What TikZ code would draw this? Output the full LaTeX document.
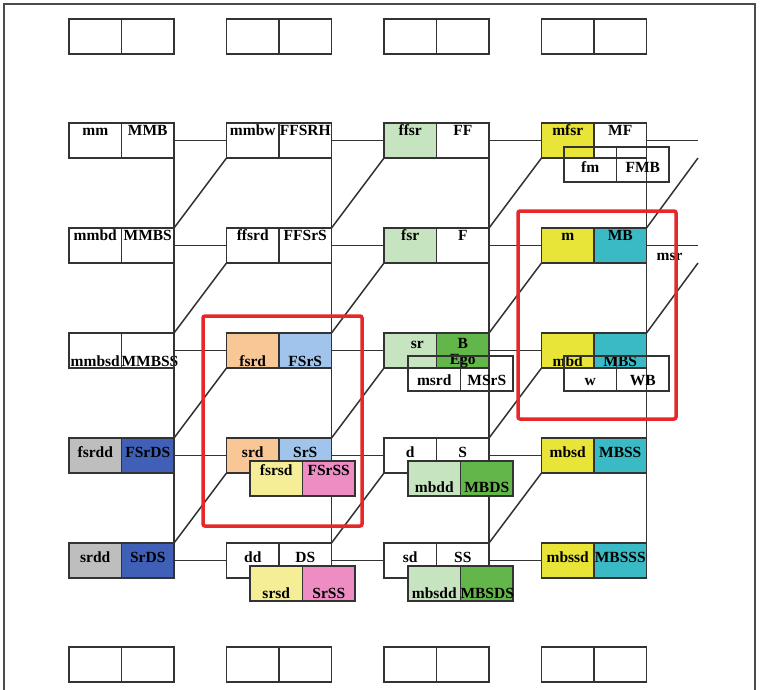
\documentclass[tikz,border=0pt]{standalone}
\usepackage{fontspec}
\setmainfont{Liberation Serif}
\usepackage{xcolor}
\usetikzlibrary{positioning, calc}
\definecolor{lat-lgreen}{RGB}{199,228,192}
\definecolor{lat-green}{RGB}{98,182,74}
\definecolor{lat-yellow}{RGB}{232,228,56}
\definecolor{lat-teal}{RGB}{58,186,196}
\definecolor{lat-orange}{RGB}{249,198,150}
\definecolor{lat-lblue}{RGB}{160,196,236}
\definecolor{lat-grey}{RGB}{190,190,190}
\definecolor{lat-blue}{RGB}{64,96,184}
\definecolor{lat-lyellow}{RGB}{246,238,150}
\definecolor{lat-pink}{RGB}{238,140,196}
\definecolor{lat-red}{RGB}{230,40,40}

\begin{document}
\begin{tikzpicture}[
    x=1pt, y=-1pt,
    cell/.style={draw=black!80, line width=1.6pt, outer sep=0pt,
                 minimum width=52.5pt, minimum height=35pt, inner sep=0pt,
                 text width=52.5pt, align=center,
                 font=\bfseries\fontsize{15.5}{15.5}\selectfont},
    tb/.style 2 args={text height=#1pt, text depth=#2pt},
    hi/.style={tb={12.5}{22.5}},
    md/.style={tb={19.5}{15.5}},
    lo/.style={tb={33.5}{1.5}},
    wire/.style={line width=1.5pt, color=black!80},
    lbl/.style={font=\bfseries\fontsize{15.5}{15.5}\selectfont, inner sep=0pt},
    hot/.style={draw=lat-red, line width=3.5pt, rounded corners=2pt},
    node distance=0pt
  ]
    \useasboundingbox (0,0) rectangle (760,690);
    \draw[line width=1.3pt, black!70] (4,690) -- (4,4) -- (755,4) -- (755,690);

    % empty rows
    \node[cell, anchor=north west] (ea1) at (69,19) {};
    \node[cell, right=of ea1] (eb1) {};
    \node[cell, anchor=north west] (ea2) at (226.5,19) {};
    \node[cell, right=of ea2] (eb2) {};
    \node[cell, anchor=north west] (ea3) at (384,19) {};
    \node[cell, right=of ea3] (eb3) {};
    \node[cell, anchor=north west] (ea4) at (541.5,19) {};
    \node[cell, right=of ea4] (eb4) {};
    \node[cell, anchor=north west] (za1) at (69,647) {};
    \node[cell, right=of za1] (zb1) {};
    \node[cell, anchor=north west] (za2) at (226.5,647) {};
    \node[cell, right=of za2] (zb2) {};
    \node[cell, anchor=north west] (za3) at (384,647) {};
    \node[cell, right=of za3] (zb3) {};
    \node[cell, anchor=north west] (za4) at (541.5,647) {};
    \node[cell, right=of za4] (zb4) {};

    % row 1
    \node[cell, hi, anchor=north west] (mm) at (69,123) {mm};
    \node[cell, hi, right=of mm] (MMB) {MMB};
    \node[cell, hi, anchor=north west] (mmbw) at (226.5,123) {mmbw};
    \node[cell, hi, right=of mmbw] (FFSRH) {FFSRH};
    \node[cell, hi, fill=lat-lgreen, anchor=north west] (ffsr) at (384,123) {ffsr};
    \node[cell, hi, right=of ffsr] (FF) {FF};
    \node[cell, hi, fill=lat-yellow, anchor=north west] (mfsr) at (541.5,123) {mfsr};
    \node[cell, hi, right=of mfsr] (MF) {MF};

    % row 2
    \node[cell, hi, anchor=north west] (mmbd) at (69,228) {mmbd};
    \node[cell, hi, right=of mmbd] (MMBS) {MMBS};
    \node[cell, hi, anchor=north west] (ffsrd) at (226.5,228) {ffsrd};
    \node[cell, hi, right=of ffsrd] (FFSrS) {FFSrS};
    \node[cell, hi, fill=lat-lgreen, anchor=north west] (fsr) at (384,228) {fsr};
    \node[cell, hi, right=of fsr] (F) {F};
    \node[cell, hi, fill=lat-yellow, anchor=north west] (m) at (541.5,228) {m};
    \node[cell, hi, fill=lat-teal, right=of m] (MB) {MB};

    % row 3
    \node[cell, lo, anchor=north west] (mmbsd) at (69,333) {mmbsd};
    \node[cell, lo, right=of mmbsd] (MMBSS) {MMBSS};
    \node[cell, lo, fill=lat-orange, anchor=north west] (fsrd) at (226.5,333) {fsrd};
    \node[cell, lo, fill=lat-lblue, right=of fsrd] (FSrS) {FSrS};
    \node[cell, tb={15}{20}, fill=lat-lgreen, anchor=north west] (sr) at (384,333) {\hspace*{14pt}sr};
    \node[cell, tb={15}{20}, fill=lat-green, right=of sr] (B) {B};
    \node[cell, lo, fill=lat-yellow, anchor=north west] (mbd) at (541.5,333) {mbd};
    \node[cell, lo, fill=lat-teal, right=of mbd] (MBS) {MBS};

    % row 4
    \node[cell, md, fill=lat-grey, anchor=north west] (fsrdd) at (69,438) {fsrdd};
    \node[cell, md, fill=lat-blue, right=of fsrdd] (FSrDS) {FSrDS};
    \node[cell, md, fill=lat-orange, anchor=north west] (srd) at (226.5,438) {srd};
    \node[cell, md, fill=lat-lblue, right=of srd] (SrS) {SrS};
    \node[cell, md, anchor=north west] (d) at (384,438) {d};
    \node[cell, md, right=of d] (S) {S};
    \node[cell, md, fill=lat-yellow, anchor=north west] (mbsd) at (541.5,438) {mbsd};
    \node[cell, md, fill=lat-teal, right=of mbsd] (MBSS) {MBSS};

    % row 5
    \node[cell, md, fill=lat-grey, anchor=north west] (srdd) at (69,543) {srdd};
    \node[cell, md, fill=lat-blue, right=of srdd] (SrDS) {SrDS};
    \node[cell, md, anchor=north west] (dd) at (226.5,543) {dd};
    \node[cell, md, right=of dd] (DS) {DS};
    \node[cell, md, anchor=north west] (sd) at (384,543) {sd};
    \node[cell, md, right=of sd] (SS) {SS};
    \node[cell, md, fill=lat-yellow, anchor=north west] (mbssd) at (541.5,543) {mbssd};
    \node[cell, md, fill=lat-teal, right=of mbssd] (MBSSS) {MBSSS};

    \node[lbl, anchor=base] (ego) at ($(B.south)+(0,-4)$) {Ego};
    \node[lbl, anchor=base] (msr) at (669.5,260) {msr};
    \coordinate (h1) at (698,140.5);
    \coordinate (h2) at (698,245.5);
    \coordinate (k1) at (698,158);
    \coordinate (k2) at (698,263);

    % verticals
    \draw[wire] (MMB.south east) -- (SrDS.north east);
    \draw[wire] (FFSRH.south east) -- (DS.north east);
    \draw[wire] (FF.south east) -- (SS.north east);
    \draw[wire] (MF.south east) -- (MBSSS.north east);

    % horizontals
    \draw[wire] (MMB.east) -- (mmbw.west);
    \draw[wire] (FFSRH.east) -- (ffsr.west);
    \draw[wire] (FF.east) -- (mfsr.west);
    \draw[wire] (MF.east) -- (h1);
    \draw[wire] (MMBS.east) -- (ffsrd.west);
    \draw[wire] (FFSrS.east) -- (fsr.west);
    \draw[wire] (F.east) -- (m.west);
    \draw[wire] (MB.east) -- (h2);
    \draw[wire] (MMBSS.east) -- (fsrd.west);
    \draw[wire] (FSrS.east) -- (sr.west);
    \draw[wire] (B.east) -- (mbd.west);
    \draw[wire] (FSrDS.east) -- (srd.west);
    \draw[wire] (SrS.east) -- (d.west);
    \draw[wire] (S.east) -- (mbsd.west);
    \draw[wire] (SrDS.east) -- (dd.west);
    \draw[wire] (DS.east) -- (sd.west);
    \draw[wire] (SS.east) -- (mbssd.west);

    % diagonals
    \draw[wire] (MMBS.north east) -- (mmbw.south west);
    \draw[wire] (FFSrS.north east) -- (ffsr.south west);
    \draw[wire] (F.north east) -- (mfsr.south west);
    \draw[wire] (MB.north east) -- (k1);
    \draw[wire] (MMBSS.north east) -- (ffsrd.south west);
    \draw[wire] (FSrS.north east) -- (fsr.south west);
    \draw[wire] (B.north east) -- (m.south west);
    \draw[wire] (MBS.north east) -- (k2);
    \draw[wire] (FSrDS.north east) -- (fsrd.south west);
    \draw[wire] (SrS.north east) -- (sr.south west);
    \draw[wire] (S.north east) -- (mbd.south west);
    \draw[wire] (SrDS.north east) -- (srd.south west);
    \draw[wire] (DS.north east) -- (d.south west);
    \draw[wire] (SS.north east) -- (mbsd.south west);

    % overlaid pairs
    \node[cell, tb={25}{10}, anchor=north west] (fm) at (564,147) {fm};
    \node[cell, tb={25}{10}, right=of fm] (FMB) {FMB};
    \node[cell, tb={29}{6}, anchor=north west] (msrd) at (408,356) {msrd};
    \node[cell, tb={29}{6}, right=of msrd] (MSrS) {MSrS};
    \node[cell, tb={29}{6}, anchor=north west] (w) at (564,356) {w};
    \node[cell, tb={29}{6}, right=of w] (WB) {WB};
    \node[cell, tb={14}{21}, fill=lat-lyellow, anchor=north west] (fsrsd) at (250,461) {fsrsd};
    \node[cell, tb={14}{21}, fill=lat-pink, right=of fsrsd] (FSrSS) {FSrSS};
    \node[cell, tb={31}{4}, fill=lat-lgreen, anchor=north west] (mbdd) at (408,461) {mbdd};
    \node[cell, tb={31}{4}, fill=lat-green, right=of mbdd] (MBDS) {MBDS};
    \node[cell, tb={32}{3}, fill=lat-lyellow, anchor=north west] (srsd) at (250,566) {srsd};
    \node[cell, tb={32}{3}, fill=lat-pink, right=of srsd] (SrSS) {SrSS};
    \node[cell, tb={32}{3}, fill=lat-lgreen, anchor=north west] (mbsdd) at (408,566) {mbsdd};
    \node[cell, tb={32}{3}, fill=lat-green, right=of mbsdd] (MBSDS) {MBSDS};

    % highlights
    \draw[hot] (203,316) rectangle (362,526);
    \draw[hot] (518,211) rectangle (676,419);
\end{tikzpicture}
\end{document}
